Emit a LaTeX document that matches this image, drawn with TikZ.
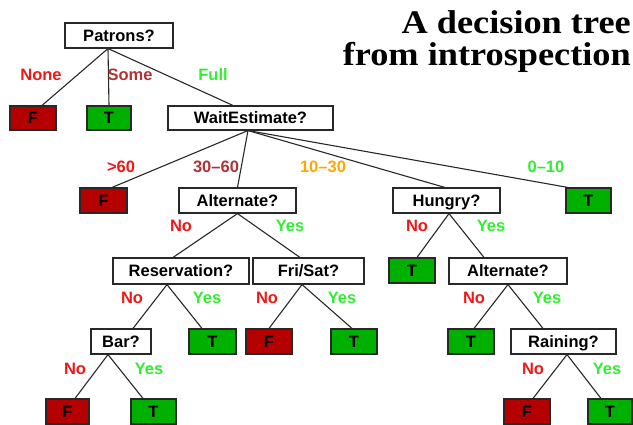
\documentclass[tikz,border=0pt]{standalone}
\usepackage{fontspec}
\setmainfont{Liberation Sans}
\newfontfamily\titlefont[FakeStretch=1.1]{Liberation Serif}
\definecolor{lblred}{RGB}{238,24,24}
\definecolor{lbldark}{RGB}{176,52,52}
\definecolor{lblgreen}{RGB}{48,238,48}
\definecolor{lblorange}{RGB}{255,168,0}
\definecolor{leafF}{RGB}{180,0,0}
\definecolor{leafT}{RGB}{0,176,0}
\definecolor{edgegray}{RGB}{40,40,40}
\tikzset{
  box/.style={draw=edgegray, line width=1.1pt, fill=white, inner sep=0pt,
    text height=13pt, text depth=2pt, font=\fontsize{16.5}{18}\selectfont\bfseries},
  leafbox/.style={box, minimum width=46pt, minimum height=25pt},
  fleaf/.style={leafbox, fill=leafF},
  tleaf/.style={leafbox, fill=leafT},
  lbl/.style={anchor=base, inner sep=0pt, font=\fontsize{16.5}{18}\selectfont\bfseries},
  conn/.style={draw=edgegray, line width=1.1pt},
  ttl/.style={anchor=base east, inner sep=0pt, font=\titlefont\fontsize{33}{33}\selectfont\bfseries}
}
\begin{document}
\begin{tikzpicture}[x=1pt,y=-1pt]
\useasboundingbox (0,0) rectangle (633,424);
% title
\node[ttl] (title1) at (631,33) {A decision tree};
\node[ttl] (title2) at (631,65) {from introspection};
% nodes
\node[box, minimum width=108pt, minimum height=25pt] (patrons) at (119,35.5) {Patrons?};
\node[fleaf, minimum height=24pt] (f1) at (33,118) {F};
\node[tleaf, minimum width=44pt, minimum height=24pt] (t1) at (109,118) {T};
\node[box, minimum width=165pt, minimum height=24pt] (wait) at (250.5,118) {WaitEstimate?};
\node[fleaf, minimum width=47pt] (f2) at (103.5,200.5) {F};
\node[box, minimum width=117pt, minimum height=25pt] (alt) at (237.5,200.5) {Alternate?};
\node[box, minimum width=107pt, minimum height=25pt] (hungry) at (446.5,200.5) {Hungry?};
\node[tleaf, minimum width=45pt] (t2) at (588.5,200.5) {T};
\node[box, minimum width=136pt, minimum height=26pt] (res) at (181,271) {Reservation?};
\node[box, minimum width=111pt, minimum height=26pt] (fri) at (308.5,271) {Fri/Sat?};
\node[tleaf] (t3) at (412,270.5) {T};
\node[box, minimum width=118pt, minimum height=26pt] (alt2) at (508,271) {Alternate?};
\node[box, minimum width=60pt, minimum height=25pt] (bar) at (121,341.5) {Bar?};
\node[tleaf, minimum width=47pt] (t4) at (212.5,341.5) {T};
\node[fleaf] (f4) at (269,341.5) {F};
\node[tleaf] (t5) at (354,341.5) {T};
\node[tleaf] (t6) at (471,341.5) {T};
\node[box, minimum width=105pt, minimum height=25pt] (rain) at (563.5,341.5) {Raining?};
\node[fleaf, minimum width=43pt] (f5) at (67.5,411.5) {F};
\node[tleaf, minimum width=45pt] (t7) at (153.5,411.5) {T};
\node[fleaf] (f6) at (527,411.5) {F};
\node[tleaf, minimum width=44pt] (t8) at (610,411.5) {T};
% connectors
\draw[conn] ([xshift=-11pt]patrons.south) -- ([xshift=9pt]f1.north);
\draw[conn] ([xshift=-11pt]patrons.south) -- (t1.north);
\draw[conn] ([xshift=-11pt]patrons.south) -- ([xshift=-17.5pt]wait.north);
\draw[conn] ([xshift=-2.5pt]wait.south) -- ([xshift=8.5pt]f2.north);
\draw[conn] ([xshift=-2.5pt]wait.south) -- (alt.north);
\draw[conn] ([xshift=-2.5pt]wait.south) -- ([xshift=-1.5pt]hungry.north);
\draw[conn] ([xshift=-2.5pt]wait.south) -- ([xshift=-20.5pt]t2.north);
\draw[conn] (alt.south) -- ([xshift=-8pt]res.north);
\draw[conn] (alt.south) -- ([xshift=-8.5pt]fri.north);
\draw[conn] ([xshift=2.5pt]hungry.south) -- ([xshift=5pt]t3.north);
\draw[conn] ([xshift=2.5pt]hungry.south) -- ([xshift=-24pt]alt2.north);
\draw[conn] ([xshift=-14pt]res.south) -- ([xshift=12pt]bar.north);
\draw[conn] ([xshift=-14pt]res.south) -- ([xshift=-10.5pt]t4.north);
\draw[conn] ([xshift=-6.5pt]fri.south) -- (f4.north);
\draw[conn] ([xshift=-6.5pt]fri.south) -- ([xshift=-2pt]t5.north);
\draw[conn] (alt2.south) -- ([xshift=3pt]t6.north);
\draw[conn] (alt2.south) -- ([xshift=-20.5pt]rain.north);
\draw[conn] ([xshift=-13pt]bar.south) -- ([xshift=7.5pt]f5.north);
\draw[conn] ([xshift=-13pt]bar.south) -- ([xshift=-10.5pt]t7.north);
\draw[conn] ([xshift=3.5pt]rain.south) -- ([xshift=6pt]f6.north);
\draw[conn] ([xshift=3.5pt]rain.south) -- ([xshift=-9pt]t8.north);
% labels
\node[lbl, text=lblred] (lnone) at (41,80) {None};
\node[lbl, text=lbldark] (lsome) at (130,80) {Some};
\node[lbl, text=lblgreen] (lfull) at (213,80) {Full};
\node[lbl, text=lblred] (l60) at (121,172) {>60};
\node[lbl, text=lbldark] (l3060) at (216,172) {30–60};
\node[lbl, text=lblorange] (l1030) at (323,172) {10–30};
\node[lbl, text=lblgreen] (l010) at (546,172) {0–10};
\node[lbl, text=lblred] (lano) at (181,231) {No};
\node[lbl, text=lblgreen] (layes) at (290,231) {Yes};
\node[lbl, text=lblred] (lhno) at (417,231) {No};
\node[lbl, text=lblgreen] (lhyes) at (491,231) {Yes};
\node[lbl, text=lblred] (lrno) at (132,303) {No};
\node[lbl, text=lblgreen] (lryes) at (207,303) {Yes};
\node[lbl, text=lblred] (lfno) at (267,303) {No};
\node[lbl, text=lblgreen] (lfyes) at (342,303) {Yes};
\node[lbl, text=lblred] (la2no) at (474,303) {No};
\node[lbl, text=lblgreen] (la2yes) at (547,303) {Yes};
\node[lbl, text=lblred] (lbno) at (75,374) {No};
\node[lbl, text=lblgreen] (lbyes) at (149,374) {Yes};
\node[lbl, text=lblred] (lrnno) at (533,374) {No};
\node[lbl, text=lblgreen] (lrnyes) at (607,374) {Yes};
\end{tikzpicture}
\end{document}
